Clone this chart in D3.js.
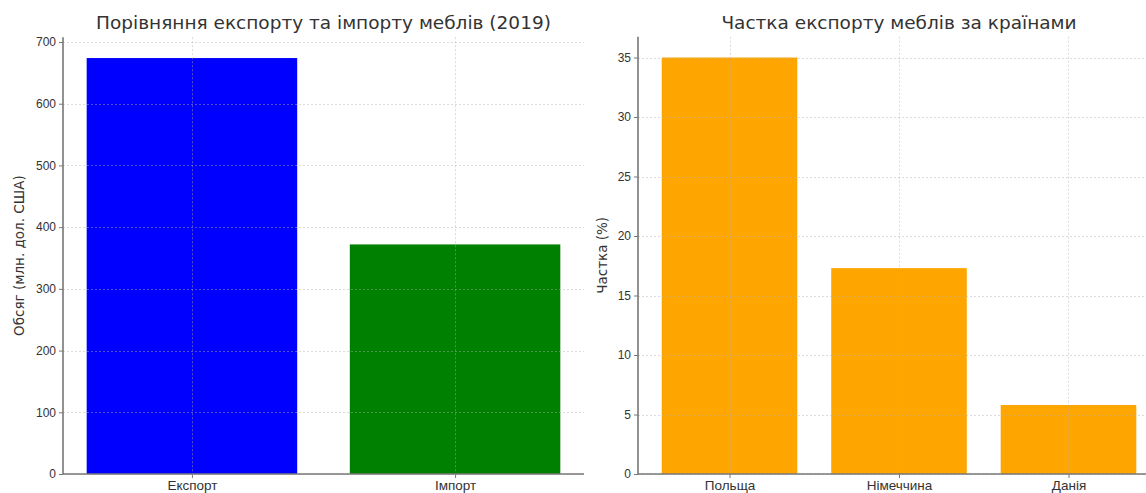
<!DOCTYPE html>
<html>
<head>
<meta charset="utf-8">
<script src="https://cdn.jsdelivr.net/npm/d3@7"></script>
<style>
  html, body { margin: 0; padding: 0; background: #fff; }
  svg { display: block; font-family: "DejaVu Sans", sans-serif; }
</style>
</head>
<body>
<svg id="chart" width="1146" height="493"></svg>
<script>
// ---- data ----
const tradeCategories = ["Експорт", "Імпорт"];
const tradeValues = [674, 372];
const tradeColors = ["#0000ff", "#008000"];
const tradeTicks = [0, 100, 200, 300, 400, 500, 600, 700];

const countryCategories = ["Польща", "Німеччина", "Данія"];
const countryShares = [35, 17.3, 5.8];
const countryColor = "#ffa500";
const shareTicks = [0, 5, 10, 15, 20, 25, 30, 35];

const titleLeft = "Порівняння експорту та імпорту меблів (2019)";
const titleRight = "Частка експорту меблів за країнами";
const yLabelLeft = "Обсяг (млн. дол. США)";
const yLabelRight = "Частка (%)";

const svg = d3.select("#chart");

function panel(opts) {
  const n = opts.categories.length;
  const lo = -0.4 - 0.05 * (n - 1 + 0.8);
  const hi = (n - 1) + 0.4 + 0.05 * (n - 1 + 0.8);
  const x = d3.scaleLinear().domain([lo, hi]).range([opts.left, opts.right]);
  const ymax = d3.max(opts.values) * 1.05;
  const y = d3.scaleLinear().domain([0, ymax]).range([opts.bottom, opts.bottom - (opts.bottom - opts.topRef) * ymax / opts.refVal]);

  const g = svg.append("g");

  // bars
  g.selectAll("rect.bar").data(opts.values).enter().append("rect")
    .attr("x", (d, i) => x(i - 0.4))
    .attr("width", (d, i) => x(i + 0.4) - x(i - 0.4))
    .attr("y", d => y(d))
    .attr("height", d => y(0) - y(d))
    .attr("fill", (d, i) => Array.isArray(opts.colors) ? opts.colors[i] : opts.colors);

  // grid
  const grid = g.append("g").attr("stroke", "#b0b0b0").attr("stroke-opacity", 0.45)
    .attr("stroke-width", 1).attr("stroke-dasharray", "2,2");
  grid.selectAll("line.h").data(opts.ticks).enter().append("line")
    .attr("x1", opts.left).attr("x2", opts.right)
    .attr("y1", d => Math.round(y(d)) + 0.5).attr("y2", d => Math.round(y(d)) + 0.5);
  grid.selectAll("line.v").data(opts.categories).enter().append("line")
    .attr("x1", (d, i) => Math.round(x(i)) + 0.5).attr("x2", (d, i) => Math.round(x(i)) + 0.5)
    .attr("y1", y(ymax)).attr("y2", opts.bottom);

  // axes
  const yAxis = d3.axisLeft(y).tickValues(opts.ticks).tickSize(4).tickPadding(3).tickFormat(d3.format("d"));
  const ya = g.append("g").attr("transform", `translate(${opts.left},0)`).call(yAxis);
  const xAxis = d3.axisBottom(x).tickValues(d3.range(n)).tickSize(4).tickPadding(2)
    .tickFormat(i => opts.categories[i]);
  const xa = g.append("g").attr("transform", `translate(0,${opts.bottom})`).call(xAxis);
  [ya, xa].forEach(a => {
    a.select(".domain").attr("stroke", "#777").attr("stroke-width", 1.6);
    a.selectAll(".tick line").attr("stroke", "#777");
    a.selectAll(".tick text").attr("fill", "#333");
  });
  ya.selectAll(".tick text").style("font-size", "12px");
  xa.selectAll(".tick text").style("font-size", "13.5px");
  xa.select(".domain").attr("d", `M${opts.left},0H${opts.right}`);
  ya.select(".domain").attr("d", `M0,${y(ymax)}V${opts.bottom}`);

  // title
  g.append("text").attr("x", (opts.left + opts.right) / 2).attr("y", 29)
    .attr("text-anchor", "middle").attr("fill", "#333").style("font-size", "18.5px")
    .text(opts.title);
  // y label
  g.append("text").attr("transform", `translate(${opts.ylabelX},${(y(ymax) + opts.bottom) / 2}) rotate(-90)`)
    .attr("text-anchor", "middle").attr("dominant-baseline", "central")
    .attr("fill", "#333").style("font-size", "13.5px")
    .text(opts.ylabel);
}

panel({
  categories: tradeCategories, values: tradeValues, colors: tradeColors, ticks: tradeTicks,
  left: 63, right: 584, bottom: 474, topRef: 42, refVal: 700,
  title: titleLeft, ylabel: yLabelLeft, ylabelX: 19
});
panel({
  categories: countryCategories, values: countryShares, colors: countryColor, ticks: shareTicks,
  left: 638, right: 1160, bottom: 474, topRef: 57.5, refVal: 35,
  title: titleRight, ylabel: yLabelRight, ylabelX: 602
});
</script>
</body>
</html>
